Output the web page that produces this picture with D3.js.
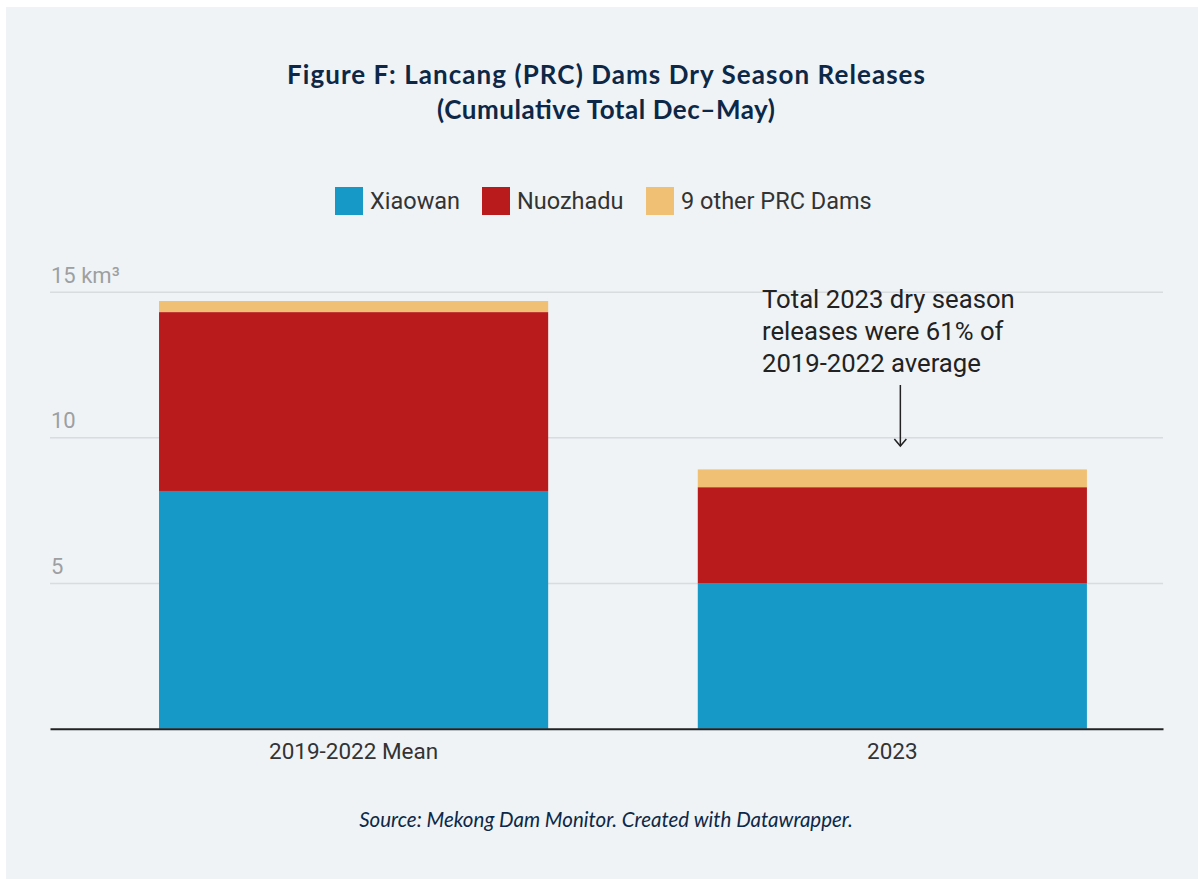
<!DOCTYPE html>
<html><head><meta charset="utf-8">
<script src="https://cdn.jsdelivr.net/npm/d3@7"></script>
<style>
html,body{margin:0;padding:0;background:#fff;}
svg{display:block;}
</style></head>
<body>
<svg id="chart" width="1198" height="879"></svg>
<script>
const categories = ["2019-2022 Mean", "2023"];
const seriesNames = ["Xiaowan", "Nuozhadu", "9 other PRC Dams"];
const xiaowan = [8.16, 5.0];
const nuozhadu = [6.14, 3.29];
const otherDams = [0.38, 0.61];
const yTicks = [5, 10, 15];
const tickLabels = ["5", "10", "15 km³"];
const colors = ["#1799c7", "#b91b1c", "#f0c174"];

const svg = d3.select("#chart");
svg.append("rect").attr("x", 6).attr("y", 7).attr("width", 1192).attr("height", 872).attr("fill", "#eff3f6");

const plotLeft = 50, plotRight = 1163, plotTop = 291.7, plotBottom = 728.7;
const y = d3.scaleLinear().domain([0, 15]).range([plotBottom, plotTop]);
const x = d3.scaleBand().domain(categories).range([plotLeft, plotRight]).paddingInner(0.2777).paddingOuter(0.1718).align(0.589);

// title
const navy = "#0d2847";
svg.append("text").attr("x", 606).attr("y", 84).attr("text-anchor", "middle")
  .attr("font-family", "Lato").attr("font-weight", 700).attr("font-size", 26).attr("fill", navy)
  .attr("textLength", 638).attr("lengthAdjust", "spacing")
  .text("Figure F: Lancang (PRC) Dams Dry Season Releases");
svg.append("text").attr("x", 606).attr("y", 119).attr("text-anchor", "middle")
  .attr("font-family", "Lato").attr("font-weight", 700).attr("font-size", 26).attr("fill", navy)
  .attr("textLength", 338).attr("lengthAdjust", "spacing")
  .text("(Cumulative Total Dec–May)");

// legend
const legendPos = [[335, 370], [482, 517], [646, 681]];
const lg = svg.append("g");
seriesNames.forEach((name, i) => {
  lg.append("rect").attr("x", legendPos[i][0]).attr("y", 187).attr("width", 28).attr("height", 28).attr("fill", colors[i]);
  lg.append("text").attr("x", legendPos[i][1]).attr("y", 208.5).attr("font-family", "Roboto")
    .attr("font-size", 23.5).attr("fill", "#333").text(name);
});

// gridlines
const yAxis = d3.axisLeft(y).tickValues(yTicks).tickSize(-(plotRight - plotLeft)).tickFormat((d, i) => tickLabels[i]);
const gy = svg.append("g").attr("transform", `translate(${plotLeft},0)`).call(yAxis);
gy.select(".domain").remove();
gy.selectAll(".tick line").attr("stroke", "#d8dcdf").attr("stroke-width", 1.5);
gy.selectAll(".tick text").attr("x", 1).attr("dy", -9.5).attr("text-anchor", "start")
  .attr("font-family", "Roboto").attr("font-size", 22).attr("fill", "#9d9fa1");

// stacked bars
const table = categories.map((c, i) => ({cat: c, "Xiaowan": xiaowan[i], "Nuozhadu": nuozhadu[i], "9 other PRC Dams": otherDams[i]}));
const stack = d3.stack().keys(seriesNames)(table);
svg.append("g").selectAll("g").data(stack).join("g").attr("fill", (d, i) => colors[i])
  .selectAll("rect").data(d => d).join("rect")
  .attr("x", d => x(d.data.cat)).attr("width", x.bandwidth())
  .attr("y", d => y(d[1])).attr("height", d => y(d[0]) - y(d[1]));

// baseline axis
const xAxis = d3.axisBottom(x).tickSize(0).tickPadding(14.5);
const gx = svg.append("g").attr("transform", `translate(0,${plotBottom})`).call(xAxis);
gx.select(".domain").attr("stroke", "#222").attr("stroke-width", 2);
gx.selectAll(".tick text").attr("font-family", "Roboto").attr("font-size", 22.5).attr("fill", "#333");

// annotation
const ann = ["Total 2023 dry season", "releases were 61% of", "2019-2022 average"];
svg.append("g").selectAll("text").data(ann).join("text")
  .attr("x", 762).attr("y", (d, i) => 308 + i * 32)
  .attr("font-family", "Roboto").attr("font-size", 25.7).attr("fill", "#222").text(d => d);
const ax = x("2023") + x.bandwidth() / 2 + 8;
svg.append("line").attr("x1", ax).attr("x2", ax).attr("y1", 385).attr("y2", 446).attr("stroke", "#222").attr("stroke-width", 1.5);
svg.append("path").attr("d", `M${ax - 6},${439} L${ax},${446} L${ax + 6},${439}`).attr("fill", "none").attr("stroke", "#222").attr("stroke-width", 1.5);

// source
svg.append("text").attr("x", 606).attr("y", 827).attr("text-anchor", "middle")
  .attr("font-family", "Lato").attr("font-style", "italic").attr("font-size", 20.5).attr("fill", navy)
  .text("Source: Mekong Dam Monitor. Created with Datawrapper.");
</script>
</body></html>
